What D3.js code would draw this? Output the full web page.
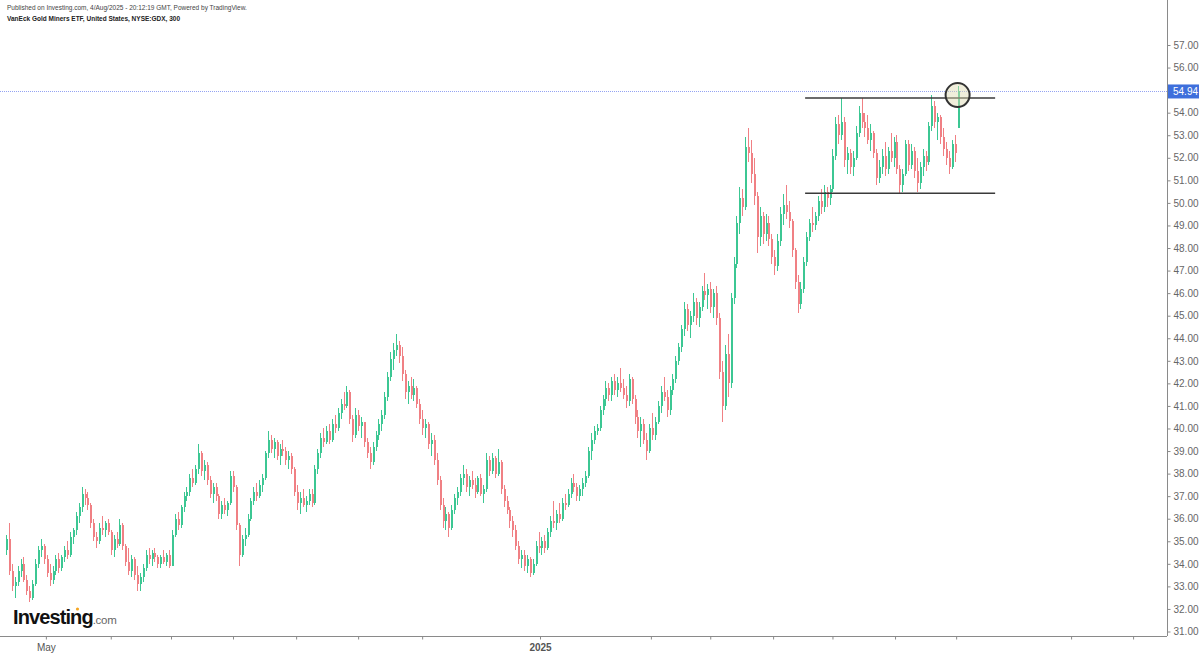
<!DOCTYPE html>
<html>
<head>
<meta charset="utf-8">
<script src="https://cdn.jsdelivr.net/npm/d3@7"></script>
<style>
  body { margin: 0; background: #fff; }
  svg { display: block; font-family: Arial, "Liberation Sans", sans-serif; }
</style>
</head>
<body>
<svg id="chart" width="1200" height="654"></svg>
<script>
// GDX candles, one per trading day, [open, high, low, close]
const candles = [
  [34.6,35.3,34.4,35.1],[35.1,35.8,33.5,33.7],[33.7,34.0,32.8,33.0],[33.0,33.4,32.5,33.2],[33.2,33.9,33.0,33.7],[33.7,34.2,33.4,34.0],[34.0,34.3,33.2,33.3],[33.3,33.5,32.6,32.8],[32.8,33.0,32.3,32.5],[32.5,33.3,32.4,33.1],
  [33.1,34.2,33.0,34.0],[34.0,34.8,33.8,34.6],[34.6,35.1,34.3,34.8],[34.8,34.9,34.0,34.2],[34.2,34.4,33.4,33.6],[33.6,34.0,33.0,33.3],[33.3,33.9,33.1,33.7],[33.7,34.4,33.5,34.2],[34.2,34.5,33.6,33.8],[33.8,34.4,33.7,34.3],
  [34.3,34.8,34.1,34.6],[34.6,35.0,34.2,34.4],[34.4,35.4,34.3,35.2],[35.2,35.6,34.9,35.5],[35.5,36.3,35.3,36.1],[36.1,36.7,35.8,36.5],[36.5,37.4,36.3,37.1],[37.1,37.3,36.6,36.9],[36.9,37.2,36.4,36.6],[36.6,36.7,35.6,35.8],
  [35.8,36.0,35.0,35.2],[35.2,35.4,34.7,35.0],[35.0,35.8,34.9,35.6],[35.6,36.1,35.3,35.5],[35.5,35.9,35.2,35.8],[35.8,36.0,35.3,35.4],[35.4,35.5,34.4,34.6],[34.6,35.3,34.3,35.1],[35.1,35.4,34.7,34.9],[34.9,36.0,34.8,35.7],
  [35.7,35.8,34.6,34.8],[34.8,34.9,33.9,34.1],[34.1,34.7,33.5,33.7],[33.7,34.4,33.4,34.2],[34.2,34.3,33.3,33.5],[33.5,33.9,32.8,33.1],[33.1,33.6,32.8,33.4],[33.4,34.0,33.2,33.8],[33.8,34.6,33.7,34.4],[34.4,34.7,34.0,34.2],
  [34.2,34.6,33.9,34.5],[34.5,34.7,34.1,34.3],[34.3,34.4,33.8,34.0],[34.0,34.4,33.8,34.3],[34.3,34.6,34.0,34.1],[34.1,34.5,33.9,34.4],[34.4,34.6,33.8,33.9],[33.9,35.5,33.9,35.3],[35.3,36.2,35.2,36.0],[36.0,36.3,35.5,35.7],
  [35.7,36.6,35.6,36.5],[36.5,37.2,36.3,37.0],[37.0,37.4,36.8,37.2],[37.2,38.0,37.0,37.8],[37.8,38.2,37.4,37.6],[37.6,38.4,37.5,38.2],[38.2,39.3,38.0,38.9],[38.9,39.0,37.9,38.1],[38.1,38.6,37.7,38.4],[38.4,38.5,37.5,37.7],
  [37.7,37.9,36.9,37.1],[37.1,37.6,36.7,37.4],[37.4,37.6,36.8,37.0],[37.0,37.1,36.0,36.2],[36.2,36.8,36.0,36.6],[36.6,36.9,36.2,36.4],[36.4,36.8,36.1,36.7],[36.7,38.1,36.6,37.9],[37.9,38.1,37.2,37.4],[37.4,37.5,35.5,35.7],
  [35.7,35.8,33.9,34.4],[34.4,35.3,34.3,35.1],[35.1,35.6,34.8,35.3],[35.3,36.2,35.2,36.0],[36.0,36.9,35.9,36.8],[36.8,37.4,36.6,37.2],[37.2,37.6,36.8,37.0],[37.0,37.7,36.9,37.5],[37.5,38.0,37.2,37.8],[37.8,39.0,37.7,38.9],
  [38.9,39.9,38.7,39.5],[39.5,39.7,38.9,39.1],[39.1,39.6,38.7,39.4],[39.4,39.5,38.6,38.8],[38.8,39.3,38.4,39.1],[39.1,39.5,38.8,39.0],[39.0,39.2,38.4,38.6],[38.6,39.0,38.2,38.8],[38.8,38.9,38.0,38.2],[38.2,38.3,37.0,37.2],
  [37.2,37.5,36.4,36.7],[36.7,37.2,36.2,36.9],[36.9,37.3,36.5,36.6],[36.6,37.0,36.3,36.8],[36.8,37.3,36.6,37.1],[37.1,37.3,36.5,36.7],[36.7,38.4,36.6,38.2],[38.2,39.1,38.0,38.9],[38.9,39.8,38.7,39.6],[39.6,40.0,39.2,39.4],
  [39.4,40.1,39.3,39.9],[39.9,40.2,39.3,39.5],[39.5,40.4,39.4,40.2],[40.2,40.6,39.8,40.0],[40.0,40.9,39.9,40.7],[40.7,41.3,40.4,41.1],[41.1,41.6,40.8,41.0],[41.0,41.9,40.9,41.6],[41.6,41.7,40.2,40.4],[40.4,40.6,39.4,39.7],
  [39.7,40.9,39.6,40.6],[40.6,40.8,39.9,40.1],[40.1,40.5,39.6,40.3],[40.3,40.3,39.2,39.4],[39.4,39.6,38.7,38.9],[38.9,39.2,38.2,38.5],[38.5,39.4,38.4,39.2],[39.2,39.9,39.0,39.7],[39.7,40.4,39.5,40.2],[40.2,40.8,39.9,40.6],
  [40.6,41.6,40.4,41.4],[41.4,42.5,41.2,42.3],[42.3,43.4,42.1,43.1],[43.1,43.8,42.6,43.5],[43.5,44.2,43.2,43.7],[43.7,43.9,42.9,43.2],[43.2,43.6,42.1,42.4],[42.4,42.6,41.3,41.6],[41.6,42.1,41.1,41.9],[41.9,42.3,41.3,41.5],
  [41.5,42.2,41.2,41.8],[41.8,41.9,40.9,41.1],[41.1,41.3,40.2,40.4],[40.4,40.8,39.7,40.0],[40.0,40.4,39.6,40.2],[40.2,40.3,39.1,39.3],[39.3,39.8,38.8,39.5],[39.5,39.7,38.4,38.6],[38.6,38.9,37.5,37.7],[37.7,37.9,36.4,36.6],
  [36.6,36.9,35.6,35.9],[35.9,36.5,35.5,36.2],[36.2,36.3,35.2,35.6],[35.6,36.6,35.5,36.4],[36.4,37.1,36.2,36.9],[36.9,37.4,36.6,37.2],[37.2,38.0,37.0,37.8],[37.8,38.4,37.5,38.0],[38.0,38.2,37.2,37.4],[37.4,37.9,37.0,37.7],
  [37.7,38.1,37.3,37.5],[37.5,37.8,36.9,37.2],[37.2,37.9,37.1,37.8],[37.8,38.0,37.0,37.1],[37.1,37.5,36.7,37.3],[37.3,38.9,37.2,38.6],[38.6,38.8,37.9,38.1],[38.1,38.9,38.0,38.7],[38.7,38.8,37.8,38.0],[38.0,39.1,37.9,38.5],
  [38.5,38.6,37.1,37.3],[37.3,37.5,36.5,36.8],[36.8,37.0,36.2,36.4],[36.4,36.5,35.6,35.9],[35.9,36.1,35.2,35.5],[35.5,35.7,34.6,34.8],[34.8,35.0,34.0,34.2],[34.2,34.6,33.8,34.4],[34.4,34.6,33.7,33.9],[33.9,34.4,33.6,34.2],
  [34.2,34.3,33.4,33.6],[33.6,34.2,33.5,34.0],[34.0,35.0,33.9,34.8],[34.8,35.4,34.5,34.7],[34.7,35.2,34.4,35.0],[35.0,35.3,34.5,34.7],[34.7,35.6,34.6,35.4],[35.4,36.1,35.2,35.9],[35.9,36.8,35.6,35.8],[35.8,36.4,35.5,36.2],
  [36.2,36.7,35.8,36.0],[36.0,36.9,35.9,36.7],[36.7,37.1,36.4,36.6],[36.6,37.3,36.5,37.1],[37.1,37.8,36.9,37.6],[37.6,38.0,37.2,37.4],[37.4,37.6,36.8,37.0],[37.0,37.5,36.8,37.3],[37.3,37.8,37.0,37.6],[37.6,38.1,37.4,37.9],
  [37.9,39.2,37.8,39.0],[39.0,39.8,38.6,39.5],[39.5,40.1,39.3,39.9],[39.9,40.2,39.7,40.0],[40.0,41.0,39.9,40.8],[40.8,41.5,40.6,41.3],[41.3,42.1,41.0,41.8],[41.8,42.0,41.2,41.5],[41.5,42.3,41.2,42.1],[42.1,42.4,41.5,41.7],
  [41.7,42.3,41.4,42.0],[42.0,42.7,41.6,41.8],[41.8,42.2,41.3,41.5],[41.5,41.9,40.9,41.2],[41.2,42.4,41.0,42.2],[42.2,42.3,41.1,41.3],[41.3,41.5,40.2,40.5],[40.5,40.8,39.6,39.9],[39.9,40.5,39.2,40.2],[40.2,40.4,39.3,39.5],
  [39.5,39.8,38.6,39.0],[39.0,40.2,38.9,40.0],[40.0,40.7,39.5,39.7],[39.7,40.5,39.5,40.3],[40.3,41.2,40.2,41.0],[41.0,41.9,40.7,41.6],[41.6,42.3,41.2,41.4],[41.4,41.7,40.5,40.8],[40.8,41.9,40.6,41.7],[41.7,42.4,41.5,42.2],
  [42.2,43.2,42.0,43.0],[43.0,43.8,42.8,43.6],[43.6,44.6,43.4,44.4],[44.4,45.6,44.1,45.3],[45.3,45.5,44.3,44.6],[44.6,45.2,44.0,45.0],[45.0,46.0,44.7,45.6],[45.6,45.8,44.6,44.9],[44.9,45.6,44.5,45.4],[45.4,46.3,45.2,46.1],
  [46.1,46.9,45.7,45.9],[45.9,46.4,45.3,46.2],[46.2,46.5,45.1,45.4],[45.4,46.2,44.9,46.0],[46.0,46.3,44.6,44.9],[44.9,45.1,42.2,42.5],[42.5,43.0,40.3,41.0],[41.0,43.7,40.8,43.3],[43.3,44.2,41.4,42.0],[42.0,46.0,41.8,45.8],
  [45.8,47.6,45.5,47.3],[47.3,49.4,47.1,49.1],[49.1,50.7,48.6,50.2],[50.2,50.6,49.4,49.8],[49.8,52.9,49.7,52.5],[52.5,53.3,51.8,52.2],[52.2,52.8,50.9,51.3],[51.3,52.0,49.9,50.3],[50.3,50.5,47.8,48.5],[48.5,49.8,48.1,49.4],
  [49.4,49.6,48.2,48.6],[48.6,49.5,48.3,49.1],[49.1,49.4,48.1,48.4],[48.4,48.6,47.3,47.6],[47.6,47.9,46.8,47.2],[47.2,48.6,47.0,48.3],[48.3,49.8,48.1,49.5],[49.5,50.4,49.0,49.9],[49.9,50.8,49.3,49.6],[49.6,50.1,48.9,49.2],
  [49.2,49.3,47.6,47.9],[47.9,48.0,46.2,46.5],[46.5,46.8,45.1,45.5],[45.5,46.5,45.3,46.2],[46.2,47.6,46.0,47.4],[47.4,48.7,47.2,48.5],[48.5,49.3,48.3,49.1],[49.1,49.8,48.7,49.0],[49.0,49.6,48.8,49.4],[49.4,50.3,49.2,50.1],
  [50.1,50.6,49.5,49.8],[49.8,50.8,49.6,50.5],[50.5,50.7,49.8,50.2],[50.2,50.8,49.9,50.6],[50.6,52.4,50.5,52.1],[52.1,53.8,51.9,53.5],[53.5,53.9,52.6,53.0],[53.0,54.65,52.8,53.6],[53.6,53.8,51.6,51.9],[51.9,52.5,51.3,52.2],
  [52.2,52.4,51.3,51.6],[51.6,52.3,51.2,52.0],[52.0,53.4,51.9,53.1],[53.1,54.3,52.9,54.0],[54.0,54.65,53.3,53.6],[53.6,54.0,52.9,53.3],[53.3,53.9,52.6,52.8],[52.8,53.5,52.3,53.1],[53.1,53.2,52.0,52.2],[52.2,52.4,50.8,51.1],
  [51.1,51.9,50.9,51.6],[51.6,52.4,51.3,52.1],[52.1,52.7,51.2,51.5],[51.5,52.5,51.3,52.3],[52.3,53.1,51.8,52.0],[52.0,52.9,51.6,52.7],[52.7,53.0,51.3,51.5],[51.5,51.7,50.4,50.8],[50.8,51.5,50.5,51.3],[51.3,52.8,51.2,52.6],
  [52.6,52.8,51.4,51.7],[51.7,52.6,51.5,52.3],[52.3,52.5,51.1,51.4],[51.4,52.0,50.5,50.9],[50.9,51.8,50.6,51.6],[51.6,52.4,51.2,52.1],[52.1,52.3,51.4,51.8],[51.8,53.6,51.7,53.4],[53.4,54.8,53.2,54.3],[54.3,54.5,53.3,53.6],
  [53.6,54.0,52.8,53.8],[53.8,53.9,52.6,52.9],[52.9,53.3,52.1,52.4],[52.4,52.7,51.7,52.0],[52.0,52.3,51.3,51.6],[51.6,52.8,51.5,52.6],[52.6,53.0,51.8,52.2],[53.3,55.2,53.3,54.94]
]

const priceTicks = [31,32,33,34,35,36,37,38,39,40,41,42,43,44,45,46,47,48,49,50,51,52,53,54,55,56,57]
// month ticks as bar positions (fractional bar index), label only where the picture shows one
const monthTicks = [13.7, 36, 56.7, 78, 99.7, 121, 143, 183.5, 221.6, 242, 263.6, 284, 305.5, 326.5, 366, 387.3]
const monthLabels = ["May", "", "", "", "", "", "", "2025", "", "", "", "", "", "", "", ""]

const lastPrice = 54.94
const rangeTop = 54.65
const rangeBottom = 50.43
const rangeFrom = 274.6
const rangeTo = 339.9
const circleAt = [327, 54.78]

const headerLines = [
  "Published on Investing.com, 4/Aug/2025 - 20:12:19 GMT, Powered by TradingView.",
  "VanEck Gold Miners ETF, United States, NYSE:GDX, 300"
]

const axisX = 1167, axisY = 636
const upColor = "#3cc793", downColor = "#f08084"

const svg = d3.select("#chart")

const x = d3.scaleLinear().domain([0, candles.length - 1]).range([6, 957.6])
const y = d3.scaleLinear().domain([31, 57]).range([631.5, 45])

// header
svg.append("text").attr("x", 7).attr("y", 10).attr("font-size", 6.5).attr("fill", "#444").text(headerLines[0])
svg.append("text").attr("x", 7).attr("y", 21).attr("font-size", 6.5).attr("font-weight", "bold").attr("fill", "#222").text(headerLines[1])

// last price dotted line
svg.append("line")
  .attr("x1", 0).attr("x2", axisX)
  .attr("y1", Math.round(y(lastPrice)) + 0.5).attr("y2", Math.round(y(lastPrice)) + 0.5)
  .attr("stroke", "#94a3f2").attr("stroke-width", 1).attr("stroke-dasharray", "1,1")

// candles
const g = svg.append("g").attr("shape-rendering", "crispEdges")
const bar = g.selectAll("g.c").data(candles).enter().append("g").attr("class", "c")
bar.append("line")
  .attr("x1", (d, i) => Math.round(x(i)) + 0.5).attr("x2", (d, i) => Math.round(x(i)) + 0.5)
  .attr("y1", d => y(d[1])).attr("y2", d => y(d[2]))
  .attr("stroke", d => d[3] >= d[0] ? upColor : downColor)
bar.append("rect")
  .attr("x", (d, i) => Math.round(x(i)))
  .attr("width", 2)
  .attr("y", d => y(Math.max(d[0], d[3])))
  .attr("height", d => Math.max(1, Math.abs(y(d[0]) - y(d[3]))))
  .attr("fill", d => d[3] >= d[0] ? upColor : downColor)

// consolidation lines
const lines = svg.append("g")
;[rangeTop, rangeBottom].forEach(p => {
  lines.append("line")
    .attr("x1", x(rangeFrom)).attr("x2", x(rangeTo))
    .attr("y1", y(p)).attr("y2", y(p))
    .attr("stroke", "#3a3a3a").attr("stroke-width", 1.6)
})

svg.append("circle")
  .attr("cx", x(circleAt[0])).attr("cy", y(circleAt[1])).attr("r", 12)
  .attr("fill", "rgba(222,218,176,0.45)").attr("stroke", "#333").attr("stroke-width", 2)

// right axis
svg.append("line").attr("x1", axisX + 0.5).attr("x2", axisX + 0.5).attr("y1", 0).attr("y2", axisY)
  .attr("stroke", "#8a8a8a")
const ya = svg.append("g").attr("transform", `translate(${axisX + 0.5},0)`)
  .call(d3.axisRight(y).tickValues(priceTicks).tickFormat(d3.format(".2f")).tickSize(3).tickPadding(3))
ya.select(".domain").remove()
ya.selectAll("line").attr("stroke", "#8a8a8a")
ya.selectAll("text").attr("fill", "#666").attr("font-size", 10).attr("font-family", "Arial, 'Liberation Sans', sans-serif")

// bottom axis
svg.append("line").attr("x1", 0).attr("x2", axisX).attr("y1", axisY + 0.5).attr("y2", axisY + 0.5)
  .attr("stroke", "#8a8a8a")
const xa = svg.append("g").attr("transform", `translate(0,${axisY + 0.5})`)
  .call(d3.axisBottom(x).tickValues(monthTicks).tickFormat((d, i) => monthLabels[i]).tickSize(3).tickPadding(4))
xa.select(".domain").remove()
xa.selectAll("line").attr("stroke", "#8a8a8a")
xa.selectAll("text").attr("fill", "#555").attr("font-size", 10).attr("font-family", "Arial, 'Liberation Sans', sans-serif")
  .attr("font-weight", (d, i) => monthLabels[i] == "2025" ? "bold" : "normal")

// last price tag
const tag = svg.append("g").attr("transform", `translate(${axisX + 1},${y(lastPrice)})`)
tag.append("rect").attr("x", 0).attr("y", -7).attr("width", 31).attr("height", 14).attr("fill", "#3e6fdc")
tag.append("text").attr("x", 5).attr("y", 3.5).attr("font-size", 10).attr("fill", "#fff").text(lastPrice.toFixed(2))

// logo
const logo = svg.append("text").attr("x", 13).attr("y", 624)
logo.append("tspan").attr("font-size", 20).attr("font-weight", "bold").attr("fill", "#111").attr("letter-spacing", -0.9).text("Investing")
logo.append("tspan").attr("font-size", 11.5).attr("fill", "#666").attr("letter-spacing", -0.3).text(".com")
svg.append("circle").attr("cx", 77.5).attr("cy", 609).attr("r", 1.6).attr("fill", "#f5a623")
</script>
</body>
</html>
